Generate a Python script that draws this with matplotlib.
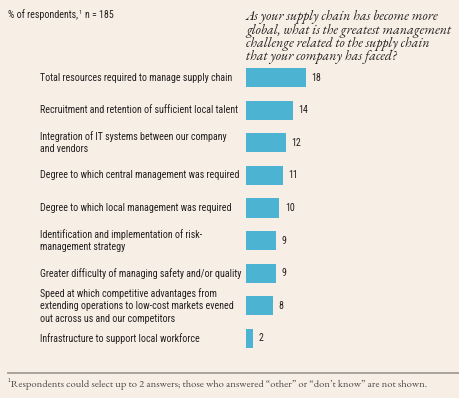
import matplotlib
matplotlib.use("Agg")
import matplotlib.pyplot as plt
import matplotlib.transforms as mtransforms

categories = [
    "Total resources required to manage supply chain",
    "Recruitment and retention of sufficient local talent",
    "Integration of IT systems between our company\nand vendors",
    "Degree to which central management was required",
    "Degree to which local management was required",
    "Identification and implementation of risk-\nmanagement strategy",
    "Greater difficulty of managing safety and/or quality",
    "Speed at which competitive advantages from\nextending operations to low-cost markets evened\nout across us and our competitors",
    "Infrastructure to support local workforce",
]
values = [18, 14, 12, 11, 10, 9, 9, 8, 2]

subtitle_main = "% of respondents,"
subtitle_sup = "1"
subtitle_n = "n = 185"
title = ("As your supply chain has become more\nglobal, what is the greatest management\n"
         "challenge related to the supply chain\nthat your company has faced?")
footnote = ("¹Respondents could select up to 2 answers; those who answered \u201cother\u201d "
            "or \u201cdon\u2019t know\u201d are not shown.")

SANS = ["Roboto Condensed", "Archivo Narrow", "Liberation Sans", "DejaVu Sans"]
SERIF = ["EB Garamond", "Liberation Serif", "DejaVu Serif"]

BG = "#F7EFE6"
BAR = "#4DB3D2"
TXT = "#231F20"
FS = 7.2

W, H = 459, 398
fig = plt.figure(figsize=(W / 100, H / 100), dpi=100, facecolor=BG)

ax_left, ax_right = 246, 446
ax_top, ax_bot = 61.2, 354.8
ax = fig.add_axes([ax_left / W, 1 - ax_bot / H, (ax_right - ax_left) / W, (ax_bot - ax_top) / H])
ax.set_facecolor("none")
ax.set_xlim(0, 60)
ypos = list(range(len(values)))
ax.set_ylim(len(values) - 0.5, -0.5)
ax.barh(ypos, values, height=0.59, color=BAR, linewidth=0)
ax.axis("off")

for y, v in zip(ypos, values):
    ax.annotate(str(v), xy=(v, y), xytext=(4.0, 0), textcoords="offset points",
                ha="left", va="center", fontsize=FS, family=SANS, color=TXT)

trans = mtransforms.blended_transform_factory(fig.transFigure, ax.transData)
for y, c in zip(ypos, categories):
    ax.text(40 / W, y, c, transform=trans, ha="left", va="center",
            fontsize=FS, family=SANS, color=TXT, linespacing=1.28)

sub = fig.text(8 / W, 1 - 15 / H, subtitle_main, ha="left", va="center", fontsize=FS,
               family=SANS, color=TXT)
fig.canvas.draw()
bb = sub.get_window_extent()
x1 = bb.x1 / W
fig.text(x1 + 0.5 / W, 1 - 12.5 / H, subtitle_sup, ha="left", va="center", fontsize=4.6,
         family=SANS, color=TXT)
fig.text(x1 + 6.5 / W, 1 - 15 / H, subtitle_n, ha="left", va="center", fontsize=FS,
         family=SANS, color=TXT)

fig.text(246 / W, 1 - 10 / H, title, ha="left", va="top", fontsize=9.9,
         family=SERIF, style="italic", weight=500, color=TXT, linespacing=0.95)

fig.add_artist(plt.Line2D([8 / W, 1.0], [1 - 372.5 / H] * 2, color="#A39D97",
                          linewidth=1.3, transform=fig.transFigure))
fig.text(8 / W, 1 - 384 / H, footnote, ha="left", va="center", fontsize=7.6,
         family=SERIF, color="#4A4545")

fig.savefig("out.png", dpi=100, facecolor=BG)
